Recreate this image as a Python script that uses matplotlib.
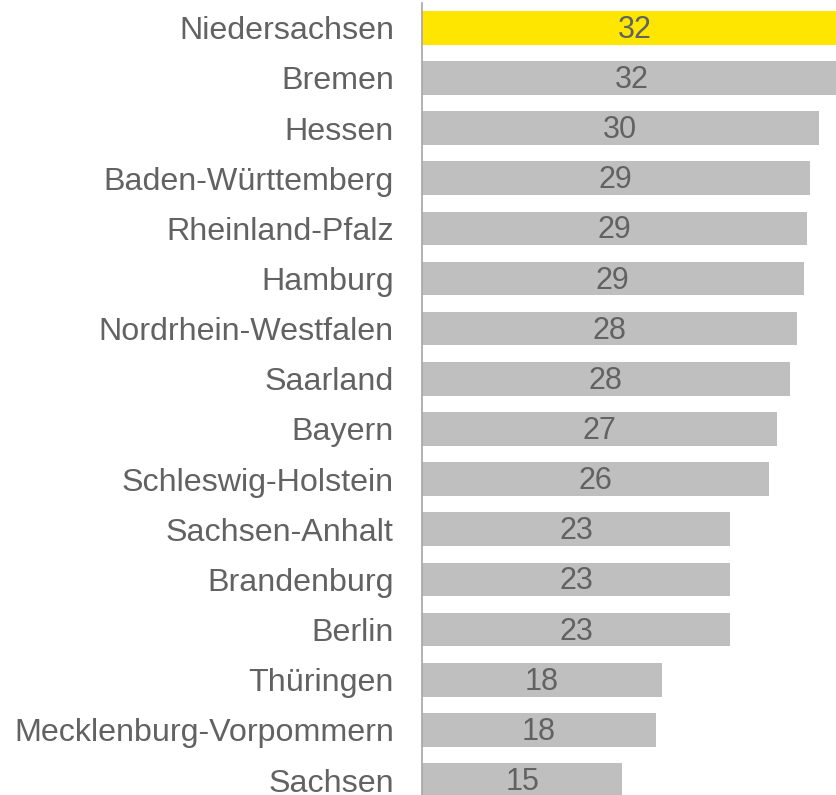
import matplotlib.pyplot as plt

plt.rcParams['font.family'] = ['Liberation Sans', 'DejaVu Sans']

laender = ["Niedersachsen", "Bremen", "Hessen", "Baden-Württemberg",
           "Rheinland-Pfalz", "Hamburg", "Nordrhein-Westfalen", "Saarland",
           "Bayern", "Schleswig-Holstein", "Sachsen-Anhalt", "Brandenburg",
           "Berlin", "Thüringen", "Mecklenburg-Vorpommern", "Sachsen"]
werte = [32.05, 31.65, 29.85, 29.2, 28.95, 28.75, 28.25, 27.7,
         26.75, 26.15, 23.2, 23.2, 23.2, 18.1, 17.6, 15.1]
farben = ["#FFE600"] + ["#BFBFBF"] * (len(werte) - 1)

text_col = "#626262"

fig = plt.figure(figsize=(8.37, 7.95), dpi=100)
ax = fig.add_axes([0.5038, -0.0128, 0.4962, 1.0095])

y = list(range(len(laender)))
ax.barh(y, werte, height=0.67, color=farben)

for yi, v in zip(y, werte):
    ax.text(v / 2, yi + 0.04, f"{round(v)}", ha="center", va="center",
            fontsize=22, color=text_col)

ax.set_ylim(len(laender) - 0.5, -0.5)
ax.set_xlim(0, 31.23)
ax.set_yticks(y)
ax.set_yticklabels(laender, fontsize=23.2, color=text_col)
ax.tick_params(axis="y", length=0, pad=20)
ax.set_xticks([])

for s in ["top", "right", "bottom"]:
    ax.spines[s].set_visible(False)
ax.spines["left"].set_color("#A6A6A6")
ax.spines["left"].set_linewidth(1.2)

fig.savefig("out.png", dpi=100)
